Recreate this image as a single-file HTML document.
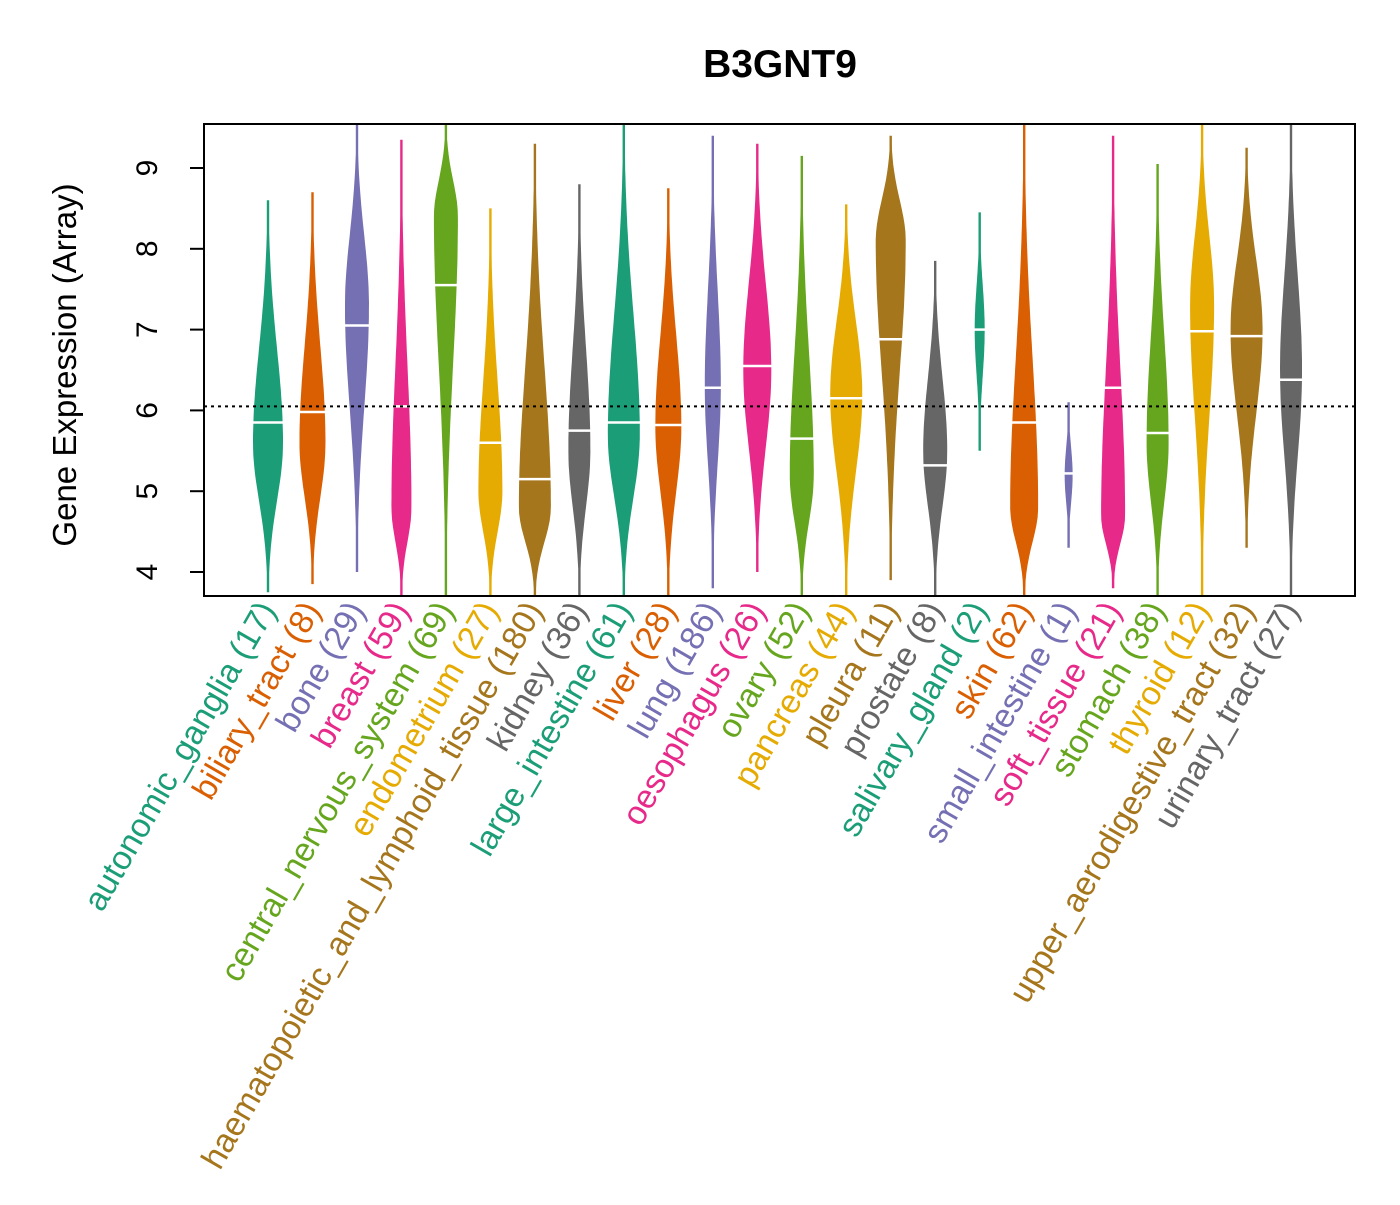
<!DOCTYPE html>
<html><head><meta charset="utf-8"><style>
body{margin:0;background:#fff}
svg{font-family:"Liberation Sans",Arial,sans-serif}
</style></head><body>
<svg id="chart" width="1400" height="1200" viewBox="0 0 1400 1200">
<defs><clipPath id="pc"><rect x="204" y="124" width="1151" height="472"/></clipPath></defs>
<rect width="1400" height="1200" fill="#fff"/>
<text x="780" y="77" text-anchor="middle" font-size="39" font-weight="bold">B3GNT9</text>
<text transform="translate(76,365) rotate(-90)" text-anchor="middle" font-size="33">Gene Expression (Array)</text>
<g id="beans" clip-path="url(#pc)"></g>
<g id="axis"></g>
<g id="labels"></g>
<rect x="204" y="124" width="1151" height="472" fill="none" stroke="#000" stroke-width="2"/>
</svg>
<script>
const categories=["autonomic_ganglia","biliary_tract","bone","breast","central_nervous_system","endometrium","haematopoietic_and_lymphoid_tissue","kidney","large_intestine","liver","lung","oesophagus","ovary","pancreas","pleura","prostate","salivary_gland","skin","small_intestine","soft_tissue","stomach","thyroid","upper_aerodigestive_tract","urinary_tract"];
const counts=[17,8,29,59,69,27,180,36,61,28,186,26,52,44,11,8,2,62,1,21,38,12,32,27];
const lows=[3.75,3.85,4.0,3.7,3.7,3.7,3.7,3.7,3.7,3.7,3.8,4.0,3.7,3.7,3.9,3.7,5.5,3.7,4.3,3.8,3.7,3.7,4.3,3.7];
const highs=[8.6,8.7,9.55,9.35,9.55,8.5,9.3,8.8,9.55,8.75,9.4,9.3,9.15,8.55,9.4,7.85,8.45,9.55,6.1,9.4,9.05,9.55,9.25,9.55];
const peaks=[5.6,5.6,7.3,4.8,8.4,5.0,4.8,5.5,5.7,5.8,6.3,6.5,5.2,6.2,8.1,5.5,7.0,4.8,5.2,4.7,5.6,7.3,7.0,6.5];
const peakWidths=[15,13,12,10,12,12,16,11,16,13,8,14,12,16,15,12,5,14,4,12,11,12,16,11];
const medians=[5.85,5.98,7.05,6.05,7.55,5.6,5.15,5.75,5.85,5.82,6.28,6.55,5.65,6.15,6.88,5.32,7.0,5.85,5.22,6.28,5.72,6.98,6.92,6.38];
const overall=6.05;
const yTicks=[4,5,6,7,8,9];
const palette=["#1B9E77","#D95F02","#7570B3","#E7298A","#66A61E","#E6AB02","#A6761D","#666666"];
const NS="http://www.w3.org/2000/svg";
const svg=document.getElementById('chart');
const y=v=>572-(v-4)*80.8;
const x=i=>268+i*44.48;
function mk(tag,attrs,parent){const e=document.createElementNS(NS,tag);for(const k in attrs)e.setAttribute(k,attrs[k]);parent.appendChild(e);return e;}
const beans=document.getElementById('beans');
const axis=document.getElementById('axis');
const labels=document.getElementById('labels');
const ol=mk('line',{x1:204,x2:1355,y1:y(overall),y2:y(overall),stroke:'#000','stroke-width':2,'stroke-dasharray':'3,4'},svg);


categories.forEach((c,i)=>{
  const col=palette[i%8],cx=x(i);
  const lo=lows[i],hi=highs[i],pk=peaks[i],hw=peakWidths[i];
  const sl=(pk-lo)/2.6,sh=(hi-pk)/2.6;
  const L=[],R=[];
  for(let k=0;k<=60;k++){const v=lo+(hi-lo)*k/60;const s=v<pk?sl:sh;const w=Math.max(1.2,hw*Math.exp(-0.5*((v-pk)/s)**2));L.push([cx-w,y(v)]);R.push([cx+w,y(v)]);}
  const pts=L.concat(R.reverse()).map(p=>p[0].toFixed(1)+','+p[1].toFixed(1)).join(' ');
  const g=mk('g',{},beans);
  
  
  mk('polygon',{points:pts,fill:col},g);
  const m=mk('line',{x1:cx-hw*0.9-3,x2:cx+hw*0.9+3,y1:y(medians[i]),y2:y(medians[i]),stroke:'#fff','stroke-width':2.5},g);
  
  
  const t=mk('text',{transform:`translate(${cx+9},610) rotate(-60)`,'text-anchor':'end','font-size':33.5,fill:col},labels);
  t.textContent=c+' ('+counts[i]+')';
  
  
});
yTicks.forEach(v=>{
  const tk=mk('line',{x1:190,x2:204,y1:y(v),y2:y(v),stroke:'#000','stroke-width':2},axis);
  
  
  const tl=mk('text',{transform:`translate(157,${y(v)}) rotate(-90)`,'text-anchor':'middle','font-size':30},axis);
  tl.textContent=v;
  
  
});
mk('line',{x1:204,x2:204,y1:y(4),y2:y(9),stroke:'#000','stroke-width':2},axis);
</script>
</body></html>
